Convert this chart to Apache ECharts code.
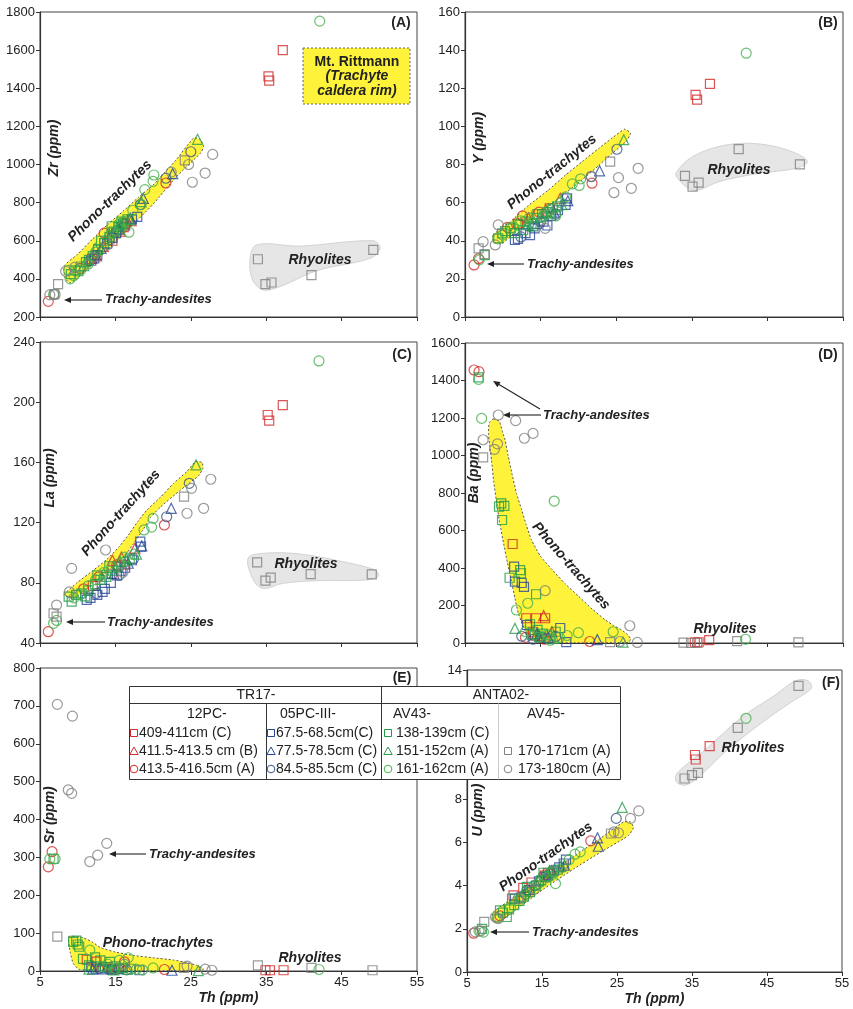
<!DOCTYPE html>
<html><head><meta charset="utf-8">
<script src="https://cdn.jsdelivr.net/npm/echarts@6.0.0/dist/echarts.min.js"></script>
<style>html,body{margin:0;padding:0;background:#fff}#c{width:853px;height:1009px}</style>
</head><body><div id="c"></div><script>
// ---------- categories ----------
const seriesNames = ['409-411cm (C)','411.5-413.5 cm (B)','413.5-416.5cm (A)','67.5-68.5cm(C)','77.5-78.5cm (C)','84.5-85.5cm (C)','138-139cm (C)','151-152cm (A)','161-162cm (A)','170-171cm (A)','173-180cm (A)'];
const groupHeaders = ['TR17-','ANTA02-'];
const subHeaders = ['12PC-','05PC-III-','AV43-','AV45-'];
const xTicks = [5,15,25,35,45,55];

// ---------- data: [Th, value] per series (order = seriesNames) ----------
const zrData = [
 [[35.3,1462],[35.4,1440],[37.2,1600],[11.9,505],[14.6,600],[16.1,672]],
 [[13.4,570],[15.7,650],[17.1,705],[12.5,520]],
 [[6.1,282],[13.5,640],[21.7,903],[11.6,495],[16.4,690],[10.3,455]],
 [[17.9,725],[12.6,525],[13.9,585],[15.1,640],[16.3,680],[14.6,615],[11.8,495],[17.2,712],[12.2,508]],
 [[22.6,952],[18.7,822],[15.5,662],[13.1,560],[17.0,718]],
 [[21.7,928],[25.0,1067],[18.3,790],[16.0,690],[14.2,606],[12.3,522],[15.3,655]],
 [[9.1,425],[9.7,445],[10.4,465],[11.1,488],[12.0,520],[12.7,555],[13.5,588],[14.2,620],[14.8,648],[15.4,672],[16.0,690],[16.6,712],[10.1,440],[13.1,600],[14.5,676],[11.5,500],[15.8,700]],
 [[25.9,1132],[14.1,640],[15.6,684],[10.8,470],[18.4,805],[12.3,560],[16.9,710]],
 [[42.1,1752],[20.1,945],[20.0,912],[18.9,868],[16.8,645],[9.0,400],[9.5,418],[10.4,448],[11.4,478],[12.4,540],[13.6,600],[14.6,642],[15.5,688],[16.2,700],[17.3,760],[6.8,318],[8.8,445],[18.4,790]],
 [[33.9,503],[34.9,372],[35.7,381],[41.0,420],[49.2,552],[7.4,372],[24.2,1022],[6.9,320]],
 [[27.9,1053],[24.7,1000],[26.9,955],[25.2,907],[6.3,316],[7.0,318],[8.4,440],[9.6,460],[12.0,512],[14.0,580],[22.4,960]]
];
const yData = [
 [[35.5,116.5],[35.7,114],[37.4,122.3],[12.0,49],[14.6,54],[16.2,57]],
 [[17.6,62.3],[13.4,52],[15.7,56]],
 [[6.2,27.3],[6.8,30.6],[21.8,70.2],[12.6,53],[14.8,55],[10.6,47]],
 [[18.5,62.2],[18.3,58.8],[11.6,40.4],[12.0,41],[13.0,44],[14.2,46.5],[15.4,50],[16.4,53],[17.3,56],[13.6,43],[15.9,48]],
 [[22.8,76.7],[18.6,61],[14.5,49],[16.8,55]],
 [[21.7,73.6],[25.1,88],[12.4,42],[15.0,50],[17.0,54]],
 [[9.9,43.9],[9.4,41.3],[10.3,45],[11.0,46.5],[12.2,48.5],[13.0,50],[13.8,49],[14.5,52],[15.2,54],[15.9,55],[16.6,57],[17.2,58],[12.7,45.5],[14.0,47.5],[11.6,44],[7.6,32.5]],
 [[26.0,93],[15.0,52.5],[16.3,54.5],[13.3,48.5],[17.8,59]],
 [[42.2,138.4],[20.3,72.5],[19.2,69.8],[20.1,69.0],[17.0,53],[9.3,41],[10.0,43],[11.3,47],[12.4,50.5],[13.5,52],[14.4,54],[15.4,53],[16.1,56],[17.7,60],[6.9,30],[18.3,63]],
 [[34.1,74],[35.1,68.4],[35.9,70.5],[41.2,88.1],[49.3,80.1],[6.8,36],[7.6,33],[24.2,81.5]],
 [[27.9,78],[25.3,73.1],[27.0,67.5],[24.7,65.2],[9.4,48.3],[15.6,46.5],[9.0,37.8],[7.4,39.5],[21.7,73.8]]
];
const laData = [
 [[35.2,191.5],[35.4,187.7],[37.2,198],[12.0,78],[14.5,86],[16.2,92]],
 [[17.6,103],[14.6,95],[15.8,97]],
 [[6.1,47.5],[21.5,118.4],[12.8,84],[15.2,92],[10.8,76]],
 [[18.3,107.3],[18.4,104],[11.2,68.6],[11.7,70],[12.6,72],[13.6,76],[14.4,80],[15.2,85],[16.3,90],[17.2,95],[13.3,74],[15.8,88]],
 [[22.4,129.5],[18.5,104.5],[14.8,86],[16.7,93]],
 [[21.8,123.9],[24.8,146.1],[12.5,73],[15.5,85],[17.4,96]],
 [[9.2,67.5],[8.8,70.8],[9.8,72],[10.5,73],[11.4,75],[12.3,79],[13.0,82],[13.8,84],[14.6,88],[15.4,91],[16.1,94],[16.9,96],[12.6,85],[14.2,91],[11.0,71]],
 [[25.7,158.3],[15.0,90],[16.4,95],[13.4,86],[17.8,99]],
 [[42.0,227.4],[20.0,122.8],[18.8,115.1],[19.8,117],[6.8,53.1],[9.5,70],[10.3,72],[11.4,78],[12.4,82],[13.5,87],[14.5,90],[15.6,93],[16.3,97],[17.5,99],[7.2,55]],
 [[33.8,93.6],[34.9,81.4],[35.6,83.4],[40.9,85.8],[49.0,85.6],[24.1,137.2],[6.8,59.7],[7.2,57.5]],
 [[27.65,148.8],[25.1,142.8],[26.7,129.5],[24.5,126.2],[13.7,101.8],[9.2,89.6],[7.2,65.2],[8.9,74],[16.0,87]]
];
const baData = [
 [[11.3,528],[13.1,132],[14.4,132],[15.6,132],[35.4,4],[35.9,4],[37.3,15],[14.0,60]],
 [[15.4,146],[16.5,60],[14.8,40]],
 [[6.2,1456],[6.85,1447],[21.5,8],[15.5,20],[13.0,30]],
 [[11.5,407],[11.6,327],[12.5,320],[12.8,299],[13.2,96],[17.6,80],[18.4,5],[14.2,40],[15.0,30]],
 [[22.5,18],[16.0,30],[14.5,50]],
 [[12.5,36],[14.0,20],[15.8,25],[17.0,35]],
 [[6.8,1417],[9.5,727],[10.2,731],[9.9,656],[9.8,745],[12.3,389],[12.4,372],[10.9,348],[14.4,260],[13.6,100],[14.6,70],[15.3,50],[16.2,40],[17.0,60],[13.8,45]],
 [[11.6,78],[25.9,5],[15.0,35],[16.8,25]],
 [[6.8,1406],[7.2,1198],[16.8,757],[13.3,212],[11.8,176],[24.6,60],[20.0,55],[42.1,20],[14.7,30],[15.9,45],[17.5,30],[18.5,40],[13.0,60],[16.3,15]],
 [[7.4,990],[24.2,5],[33.9,2],[34.9,0],[35.7,0],[41.0,10],[49.1,3]],
 [[9.4,1216],[11.7,1186],[12.85,1092],[14.0,1118],[7.4,1084],[8.9,1033],[9.3,1062],[15.6,279],[26.8,92],[27.8,3],[25.5,8]]
];
const srData = [
 [[34.9,2],[35.5,2],[37.3,2],[11.2,30],[12.5,25],[14.0,10]],
 [[13.0,12],[15.2,8]],
 [[6.6,315],[6.1,275],[21.5,4],[16.2,24],[14.5,5]],
 [[11.8,10],[12.4,6],[13.3,4],[14.6,3],[15.5,5],[18.2,2]],
 [[22.5,2],[12.0,5],[13.8,8]],
 [[12.8,7],[14.2,4],[16.5,3]],
 [[9.4,77],[9.8,80],[10.0,70],[10.2,64],[10.7,32],[12.3,36],[13.0,28],[14.3,24],[15.0,12],[16.0,8],[11.5,15],[13.6,10],[17.0,6],[6.8,296]],
 [[11.5,5],[14.8,3],[26.0,1],[16.6,4]],
 [[6.3,296],[7.0,296],[11.6,55],[16.7,35],[15.5,28],[20.0,8],[42.0,4],[13.2,12],[14.0,18],[15.0,6],[17.8,5],[18.6,3]],
 [[7.3,91],[24.1,8],[33.9,15],[41.0,8],[49.1,2]],
 [[7.3,704],[9.3,673],[8.75,478],[9.2,469],[13.85,337],[12.65,306],[11.6,289],[24.5,13],[26.9,5],[27.8,2],[16.2,18]]
];
const uData = [
 [[35.4,10.06],[35.5,9.85],[37.35,10.47],[12.5,3.9],[13.6,4.15],[11.2,3.55],[15.8,4.6]],
 [[14.8,4.45],[16.3,4.7]],
 [[5.9,1.8],[21.5,6.08],[13.0,3.8],[15.4,4.5],[9.4,2.6]],
 [[18.2,5.21],[17.9,5.03],[11.4,3.4],[12.2,3.45],[13.3,3.8],[14.6,4.2],[15.5,4.4],[16.6,4.7],[17.3,4.85]],
 [[22.4,6.22],[22.5,5.83],[15.8,4.5],[18.0,4.95]],
 [[24.9,7.12],[14.0,4.0],[16.0,4.55],[12.8,3.6]],
 [[9.4,2.86],[9.8,2.75],[10.3,2.55],[10.6,2.9],[11.3,3.1],[12.0,3.3],[12.6,3.5],[13.4,3.7],[14.2,4.0],[14.9,4.25],[15.6,4.45],[16.4,4.6],[17.1,4.75],[11.0,3.4],[13.0,3.95],[15.2,4.6],[7.0,2.0]],
 [[25.7,7.63],[14.6,4.3],[16.0,4.7],[12.7,3.8],[17.5,4.9]],
 [[42.2,11.76],[20.1,5.57],[19.4,5.46],[16.8,4.1],[6.6,1.9],[7.2,1.85],[9.0,2.5],[10.8,3.0],[12.2,3.4],[13.6,3.9],[14.5,4.1],[15.7,4.4],[16.5,4.65],[18.6,5.2]],
 [[34.0,8.97],[35.0,9.13],[35.8,9.23],[41.1,11.32],[49.2,13.26],[7.3,2.32],[24.2,6.42]],
 [[27.9,7.47],[26.8,7.12],[24.6,6.5],[25.2,6.45],[9.2,2.48],[6.1,1.86],[6.8,1.9],[8.8,2.55],[11.8,3.4],[14.0,3.85]]
];

// ---------- fields (polygon vertices in data units) ----------
const zrPhono = [[8.2,468],[10,530],[12,610],[14,686],[16,754],[18,826],[20,893],[23,1022],[25.4,1140],[26.3,1130],[26.7,1095],[26.3,1060],[23,932],[20,792],[16,632],[12,478],[10,405],[9,378],[8.3,405]];
const zrRhyo = [[32.85,499],[33.7,578],[39.5,572],[49.2,600],[50.1,560],[48.8,508],[41.7,443],[36.8,359],[34.6,342],[33.2,394]];
const yPhono = [[8.7,43],[11,50],[13.4,58.5],[16,66.5],[18.3,74.5],[20.5,81.5],[22.7,88.5],[24.5,94],[26.1,98.5],[26.9,96.5],[26.3,92],[24.5,86],[22.7,79.5],[20.5,72],[18.3,65],[16,58],[13.85,51],[11.5,44],[9.9,38.5],[8.9,39]];
const yRhyo = [[32.9,75.4],[35.1,84.1],[39.5,90.2],[43.9,90.8],[48.3,86.7],[50.3,81.5],[48.8,78],[43.9,75.4],[38.6,71],[35.9,66.6],[34.6,67.5],[33.3,71.9]];
const laPhono = [[8.2,72],[9.9,80],[12,88],[13.85,95.5],[15.5,104],[16.9,113],[18,121],[19.2,128.5],[21,137],[22.7,146],[24.5,154],[25.6,160.5],[26.5,160],[26.6,156],[26.0,151],[23.6,141.5],[20.9,130],[19.6,123],[18.7,115.5],[17.4,106],[16.1,97],[14,88],[12.1,80],[10.5,73],[9.4,69.5]];
const laRhyo = [[32.6,96.3],[34.6,99.6],[39.5,99.1],[46.1,93],[49.4,88.5],[49.9,84.5],[48.3,81.9],[41.7,81.4],[37.3,79.7],[34.6,76.3],[33.3,81.9]];
const baPhono = [[8.75,1195],[9.54,1182],[10.0,1120],[10.3,1083],[10.7,1000],[11.2,905],[11.8,800],[12.5,709],[13.1,630],[13.8,549],[15.0,462],[16.5,392],[18.2,318],[20.0,250],[21.8,182],[23.5,125],[24.7,92],[25.7,70],[26.5,45],[26.9,22],[26.6,3],[14.7,3],[13.5,22],[13.2,43],[12.6,100],[12.05,158],[11.6,240],[11.2,318],[10.6,430],[10.1,532],[9.6,640],[9.2,745],[8.8,860],[8.5,976],[8.25,1060],[8.1,1118],[8.2,1175]];
const srPhono = [[8.8,91],[10.7,88],[12.0,76],[13.0,62],[15,50],[17.4,41],[20,35],[22.7,29],[24.5,22],[25.8,15],[26.7,5],[25,1],[13,1],[10.2,4],[9.4,20],[9.0,50]];
const uPhono = [[8.5,2.78],[11.67,3.56],[15.2,4.42],[19.2,5.36],[22.8,6.2],[25.9,6.96],[26.8,6.95],[27.2,6.7],[26.6,6.35],[25.9,6.18],[22.8,5.55],[19.2,4.77],[15.2,3.84],[11.67,2.93],[9.2,2.3],[8.4,2.45]];
const uRhyo = [[33.0,9.21],[37.2,10.44],[41.7,11.83],[46.1,12.84],[48.8,13.5],[50.5,13.5],[50.9,13.15],[48.3,12.53],[43.9,11.45],[39.4,10.2],[35.9,9.05],[34.1,8.66],[32.9,8.82]];

// ---------- styles ----------
const RED='#d22b2b', BLUE='#26479a', BLUEC='#3a5683', GSQ='#1f9a45', GTR='#2e9e50', GCI='#45b04c', GRAY='#808080';
const seriesColors = [RED,RED,RED,BLUE,BLUE,BLUEC,GSQ,GTR,GCI,GRAY,GRAY];
const seriesSymbols = ['rect','triangle','circle','rect','triangle','circle','rect','triangle','circle','rect','circle'];
const symSize = {rect:9, triangle:10, circle:10};
const FONT = '"Liberation Sans", Arial, Helvetica, sans-serif';
const YELLOW = '#fff23a';

const panels = [
 {data:zrData, phono:zrPhono, rhyo:zrRhyo, min:200, max:1800, step:200, grid:{left:40,top:12,width:377,height:305}, xl:false},
 {data:yData, phono:yPhono, rhyo:yRhyo, min:0, max:160, step:20, grid:{left:465,top:12,width:378,height:305}, xl:false},
 {data:laData, phono:laPhono, rhyo:laRhyo, min:40, max:240, step:40, grid:{left:40,top:342,width:377,height:301}, xl:false},
 {data:baData, phono:baPhono, rhyo:null, min:0, max:1600, step:200, grid:{left:465,top:343,width:378,height:300}, xl:false},
 {data:srData, phono:srPhono, rhyo:null, min:0, max:800, step:100, grid:{left:40,top:668,width:377,height:303}, xl:true},
 {data:uData, phono:uPhono, rhyo:uRhyo, min:0, max:14, step:2, grid:{left:467,top:670,width:375,height:302}, xl:true}
];

const grids=[], xAxes=[], yAxes=[], series=[];
function fieldSeries(i, verts, fill, stroke, dash, sm){
  return {type:'custom', xAxisIndex:i, yAxisIndex:i, z:1, clip:true, silent:true,
    data: verts, encode:{x:0,y:1},
    renderItem: function(params, api){
      if (params.dataIndex !== 0) return null;
      const pts = verts.map(v => api.coord(v));
      return {type:'polygon', shape:{points:pts, smooth:sm},
        style:{fill:fill, stroke:stroke, lineWidth:1, lineDash:dash}};
    }};
}
panels.forEach((p,i)=>{
  grids.push(Object.assign({show:true, borderColor:'#444', borderWidth:1, containLabel:false}, p.grid));
  xAxes.push({type:'value', gridIndex:i, min:5, max:55, interval:10,
    axisLine:{show:true, lineStyle:{color:'#333', width:1.2}},
    axisTick:{show:true, length:4, lineStyle:{color:'#333'}},
    axisLabel:{show:p.xl, fontSize:13, fontFamily:FONT, color:'#222', margin:5,
      formatter: v => xTicks.includes(v) ? String(v) : ''},
    splitLine:{show:false},
    name: p.xl ? 'Th (ppm)' : '', nameLocation:'middle', nameGap:20,
    nameTextStyle:{fontSize:14, fontWeight:'bold', fontStyle:'italic', fontFamily:FONT, color:'#222'}});
  yAxes.push({type:'value', gridIndex:i, min:p.min, max:p.max, interval:p.step,
    axisLine:{show:true, lineStyle:{color:'#333', width:1.2}},
    axisTick:{show:true, length:4, lineStyle:{color:'#333'}},
    axisLabel:{fontSize:13, fontFamily:FONT, color:'#222', margin:5, formatter: v => String(v)},
    splitLine:{show:false}});
  if (p.rhyo) series.push(fieldSeries(i, p.rhyo, '#e6e6e6', '#d2d2d2', null, 0.35));
  series.push(fieldSeries(i, p.phono, YELLOW, '#555', [2,2], 0.15));
  p.data.forEach((pts,k)=>{
    series.push({type:'scatter', name:seriesNames[k], xAxisIndex:i, yAxisIndex:i, z:3,
      symbol:seriesSymbols[k], symbolSize:symSize[seriesSymbols[k]], data:pts, silent:true,
      itemStyle:{color:'rgba(0,0,0,0)', borderColor:seriesColors[k], borderWidth:1.2}});
  });
});

// ---------- annotations ----------
const G=[];
function T(x,y,s,o){o=o||{};
  G.push({type:'text', x:x, y:y, z:60, rotation:(o.rot||0)*Math.PI/180,
    style:{text:s, fill:'#222', font:(o.font||('bold 13px '+FONT)),
      align:o.align||'left', textAlign:o.align||'left', verticalAlign:'middle', textVerticalAlign:'middle'}});
}
function A(x1,y1,x2,y2){
  const ang=Math.atan2(y2-y1,x2-x1), L=7, W=3;
  const bx=x2-L*Math.cos(ang), by=y2-L*Math.sin(ang), px=-Math.sin(ang), py=Math.cos(ang);
  G.push({type:'line', z:60, shape:{x1:x1,y1:y1,x2:bx,y2:by}, style:{stroke:'#222', lineWidth:1.1}});
  G.push({type:'polygon', z:60, shape:{points:[[x2,y2],[bx+W*px,by+W*py],[bx-W*px,by-W*py]]}, style:{fill:'#222'}});
}
const BI = 'italic bold 13px '+FONT, BI14='italic bold 14px '+FONT, B14='bold 14px '+FONT;
// y axis names
[['Zr (ppm)',54,148],['Y (ppm)',479,138],['La (ppm)',50,478],['Ba (ppm)',474,473],['Sr (ppm)',50,815],['U (ppm)',478,810]]
 .forEach(a=>T(a[1],a[2],a[0],{rot:90,align:'center',font:BI14}));
// panel letters
[['(A)',401,23],['(B)',828,23],['(C)',402,355],['(D)',828,355],['(E)',402,678],['(F)',831,683]]
 .forEach(a=>T(a[1],a[2],a[0],{align:'center',font:B14}));
// Phono-trachytes
[[110,201,44],[552,172,39],[121,513,48],[571,566,-49],[158,943,0],[546,857,35]]
 .forEach(a=>T(a[0],a[1],'Phono-trachytes',{rot:a[2],align:'center',font:BI14}));
// Rhyolites
[[320,260],[739,170],[306,564],[725,629],[310,958],[753,748]]
 .forEach(a=>T(a[0],a[1],'Rhyolites',{align:'center',font:BI14}));
// Trachy-andesites + arrows
[[105,299],[527,264],[107,622],[543,415],[149,854],[532,932]]
 .forEach(a=>T(a[0],a[1],'Trachy-andesites',{font:BI}));
A(102,300,64,300); A(524,264,487,264); A(105,622,66,622); A(541,415,503,415); A(540,409,493,381); A(146,854,109,854); A(529,932,490,932);
// Mt. Rittmann box
G.push({type:'rect', z:55, shape:{x:303,y:48,width:107,height:56}, style:{fill:YELLOW, stroke:'#666', lineWidth:1, lineDash:[2,2]}});
T(357,62,'Mt. Rittmann',{align:'center',font:B14});
T(357,76,'(Trachyte',{align:'center',font:BI14});
T(357,91,'caldera rim)',{align:'center',font:BI14});

// ---------- legend table ----------
const LZ=100;
G.push({type:'rect', z:LZ, shape:{x:129.5,y:686.5,width:491,height:93}, style:{fill:'#fff', stroke:'#333', lineWidth:1}});
function L(x1,y1,x2,y2,c){G.push({type:'line', z:LZ+1, shape:{x1:x1,y1:y1,x2:x2,y2:y2}, style:{stroke:c||'#333', lineWidth:1}});}
L(129.5,703.5,620.5,703.5); L(381.5,686.5,381.5,779.5); L(266.5,703.5,266.5,779.5); L(498.5,703.5,498.5,779.5,'#c8c8c8');
function LT(x,y,s,al){G.push({type:'text', z:LZ+2, x:x, y:y, style:{text:s, fill:'#222', font:'14px '+FONT, align:al||'left', textAlign:al||'left', verticalAlign:'middle', textVerticalAlign:'middle'}});}
LT(256,695,groupHeaders[0],'center'); LT(501,695,groupHeaders[1],'center');
LT(187,714,subHeaders[0]); LT(280,714,subHeaders[1]); LT(393,714,subHeaders[2]); LT(527,714,subHeaders[3]);
function LS(k,x,y){
  const c=seriesColors[k], s=seriesSymbols[k], st={fill:'none', stroke:c, lineWidth:1};
  if (s==='rect') G.push({type:'rect', z:LZ+2, shape:{x:x-3.5,y:y-3.5,width:7,height:7}, style:st});
  else if (s==='triangle') G.push({type:'polygon', z:LZ+2, shape:{points:[[x,y-4],[x+4.2,y+3.5],[x-4.2,y+3.5]]}, style:st});
  else G.push({type:'circle', z:LZ+2, shape:{cx:x,cy:y,r:3.8}, style:st});
}
const rowsY=[733,751,769];
const cols=[{sx:134,tx:139,ks:[0,1,2],r:[0,1,2]},{sx:271,tx:276,ks:[3,4,5],r:[0,1,2]},{sx:388,tx:396,ks:[6,7,8],r:[0,1,2]},{sx:508,tx:518,ks:[9,10],r:[1,2]}];
cols.forEach(c=>c.ks.forEach((k,j)=>{const y=rowsY[c.r[j]]; LS(k,c.sx,y); LT(c.tx,y,seriesNames[k]);}));

const chart = echarts.init(document.getElementById('c'), null, {renderer:'canvas'});
chart.setOption({animation:false, backgroundColor:'#fff', grid:grids, xAxis:xAxes, yAxis:yAxes, series:series, graphic:{elements:G}});
</script></body></html>
